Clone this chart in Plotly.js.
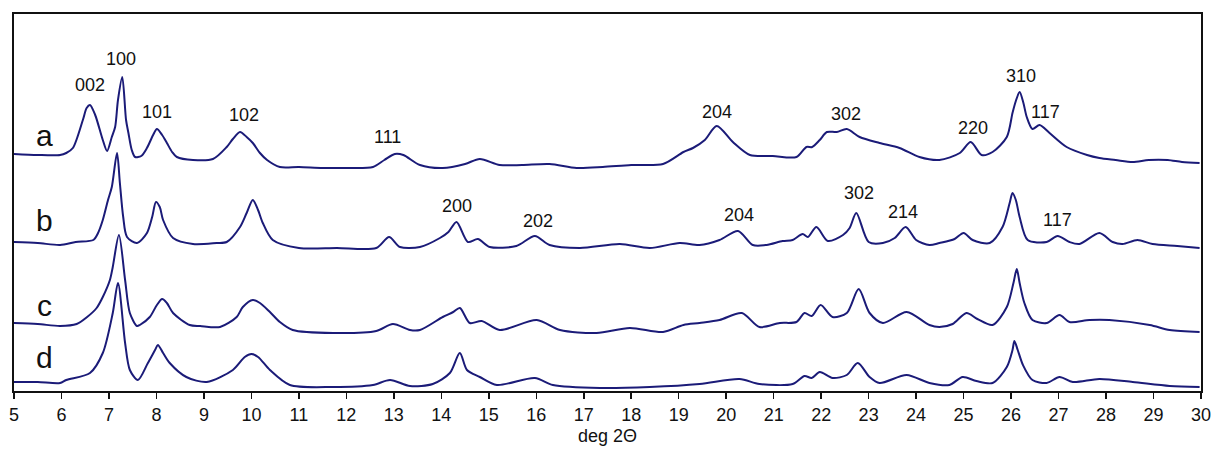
<!DOCTYPE html>
<html>
<head>
<meta charset="utf-8">
<script src="https://cdn.plot.ly/plotly-3.0.1.min.js"></script>
<style>html,body{margin:0;padding:0;background:#fff;}#chart{width:1216px;height:454px;}</style>
</head>
<body>
<div id="chart"></div>
<script>
// 2-theta (deg) and stacked intensity (a.u., offset) for patterns a-d
const xA = [5.0,5.5,5.97,6.1,6.24,6.45,6.53,6.6,6.71,6.87,6.96,7.06,7.13,7.19,7.28,7.36,7.41,7.48,7.55,7.68,7.8,7.93,8.01,8.12,8.22,8.33,8.43,8.77,9.19,9.48,9.61,9.76,9.9,10.03,10.18,10.33,10.6,11.0,11.5,12.0,12.56,12.8,13.02,13.2,13.55,14.03,14.5,14.81,15.23,15.7,16.28,16.85,17.4,18.0,18.67,19.1,19.3,19.55,19.8,20.14,20.5,20.98,21.48,21.69,21.81,21.97,22.12,22.33,22.54,22.81,23.23,23.65,24.07,24.49,24.92,25.15,25.38,25.61,25.91,26.03,26.1,26.18,26.26,26.33,26.45,26.6,26.81,27.17,27.6,27.86,28.2,28.56,28.9,29.3,29.6,29.97];
const yA = [237,236,236,238,243,271,283,286,276,251,240,254,264,291,314,271,258,241,234,235,243,256,262,256,248,239,234,231,232,244,252,259,254,248,238,231,224,224,223,223,224,231,237,236,226,223,227,232,226,226,227,223,224,226,227,239,243,251,265,249,236,235,234,244,244,251,259,259,262,254,248,243,234,231,238,249,236,239,254,278,290,299,288,274,262,266,258,244,236,233,231,229,231,231,229,228];

const xB = [5.0,5.5,5.97,6.3,6.67,6.77,6.87,6.98,7.06,7.17,7.23,7.3,7.38,7.59,7.8,7.91,7.99,8.07,8.14,8.35,8.77,9.27,9.48,9.76,9.9,10.03,10.14,10.24,10.45,11.0,11.8,12.63,12.9,13.13,13.55,13.97,14.15,14.32,14.56,14.77,15.02,15.58,15.97,16.28,16.92,17.76,18.39,19.02,19.44,19.86,20.25,20.56,20.85,21.19,21.4,21.61,21.72,21.9,22.14,22.46,22.6,22.74,23.0,23.3,23.55,23.78,24.0,24.28,24.49,24.81,25.0,25.19,25.55,25.82,25.97,26.03,26.1,26.18,26.35,26.75,26.98,27.23,27.44,27.86,28.14,28.35,28.66,28.98,29.5,29.97];
const yB = [149,148,146,149,151,158,171,191,204,238,208,174,154,148,158,174,189,184,171,153,147,148,149,164,178,191,181,168,151,143,143,143,154,144,144,153,159,169,149,152,144,145,155,146,143,147,143,148,146,151,160,146,146,150,151,157,154,164,150,156,163,178,149,148,153,164,151,146,148,152,158,151,148,164,188,198,191,174,151,149,155,149,147,158,149,147,151,147,145,143];

const xC = [5.0,5.5,5.97,6.32,6.54,6.74,6.87,7.02,7.08,7.21,7.34,7.44,7.59,7.65,7.86,8.01,8.12,8.22,8.35,8.7,8.92,9.34,9.69,9.82,10.03,10.18,10.39,10.6,10.87,11.72,12.63,12.98,13.34,13.55,14.03,14.25,14.39,14.6,14.85,15.23,16.01,16.5,17.27,17.97,18.67,19.1,19.44,19.86,20.33,20.7,21.13,21.48,21.65,21.8,21.99,22.24,22.54,22.79,23.02,23.3,23.8,24.28,24.49,24.77,25.06,25.29,25.61,25.91,26.05,26.12,26.18,26.28,26.45,26.75,27.02,27.23,27.65,28.07,28.92,29.34,29.97];
const yC = [68,67,65,67,74,83,94,111,124,156,111,78,65,66,74,86,92,88,78,66,65,64,74,84,91,88,79,69,61,58,60,67,61,61,74,79,83,68,70,61,71,61,58,63,59,66,68,71,78,64,68,69,78,75,86,74,78,102,78,68,79,66,64,67,78,72,66,84,108,122,108,88,71,68,76,69,71,71,66,61,59];

const xD = [5.0,5.5,5.97,6.1,6.6,6.87,7.08,7.19,7.34,7.44,7.61,7.82,7.97,8.03,8.14,8.28,8.63,9.06,9.61,9.86,10.0,10.14,10.39,10.81,11.72,12.56,12.92,13.34,13.82,14.18,14.39,14.54,14.81,15.17,15.97,16.35,17.34,18.39,19.44,20.28,20.7,21.4,21.65,21.8,21.97,22.24,22.54,22.77,23.02,23.23,23.8,24.28,24.7,24.98,25.27,25.61,25.91,26.03,26.07,26.14,26.25,26.45,26.75,27.02,27.3,27.86,28.56,29.34,29.97];
const yD = [9,9,8,11,18,38,78,108,48,21,11,28,41,46,38,28,14,9,21,34,37,34,21,6,4,6,11,5,7,18,38,21,14,6,13,6,3,4,7,12,7,7,15,13,19,13,16,28,14,8,16,8,6,14,10,8,24,41,50,41,26,11,8,14,9,12,9,5,4];

// Sample letters and reflection (hkl) labels
const sampleNames = ["a","b","c","d"];
const sampleLabelX = [5.64,5.64,5.64,5.64];
const sampleLabelY = [256,171,86,34];

const hklText = ["002","100","101","102","111","204","302","220","310","117","200","202","204","302","214","117"];
const hklX = [6.6,7.25,8.01,9.84,12.87,19.8,22.52,25.19,26.2,26.73,14.33,16.03,20.26,22.79,23.72,26.98];
const hklY = [306,332,279,276,254,279,277,263,315,279,185,170,176,198,179,171];

const lineColor = "#1b1b78";
const series = [[xA,yA],[xB,yB],[xC,yC],[xD,yD]];
const traces = series.map((s,i)=>({
  x: s[0], y: s[1], type: "scatter", mode: "lines", name: sampleNames[i],
  line: {color: lineColor, width: 2, shape: "spline", smoothing: 0.8},
  hoverinfo: "x+y"
}));

const font = "Arial, 'Liberation Sans', sans-serif";
const annotations = [];
sampleNames.forEach((t,i)=>annotations.push({
  x: sampleLabelX[i], y: sampleLabelY[i], text: t, showarrow: false,
  xanchor: "center", yanchor: "middle", font: {family: font, size: 30, color: "#111"}
}));
hklText.forEach((t,i)=>annotations.push({
  x: hklX[i], y: hklY[i], text: t, showarrow: false,
  xanchor: "center", yanchor: "middle", font: {family: font, size: 18, color: "#111"}
}));

const layout = {
  width: 1216, height: 454,
  margin: {l: 14, r: 15, t: 14, b: 63},
  paper_bgcolor: "#fff", plot_bgcolor: "#fff",
  showlegend: false,
  font: {family: font, color: "#111"},
  xaxis: {
    range: [5, 30], tickmode: "linear", tick0: 5, dtick: 1,
    ticks: "outside", ticklen: 6, tickwidth: 1.5, tickcolor: "#111",
    showline: true, linecolor: "#111", linewidth: 2, mirror: true,
    showgrid: false, zeroline: false,
    tickfont: {family: font, size: 18, color: "#111"},
    title: {text: "deg 2Θ", font: {family: font, size: 18, color: "#111"}, standoff: 6}
  },
  yaxis: {
    range: [0, 377], showline: true, linecolor: "#111", linewidth: 2, mirror: true,
    ticks: "", showticklabels: false, showgrid: false, zeroline: false
  },
  annotations: annotations
};

Plotly.newPlot("chart", traces, layout, {displayModeBar: false, staticPlot: true});
</script>
</body>
</html>
